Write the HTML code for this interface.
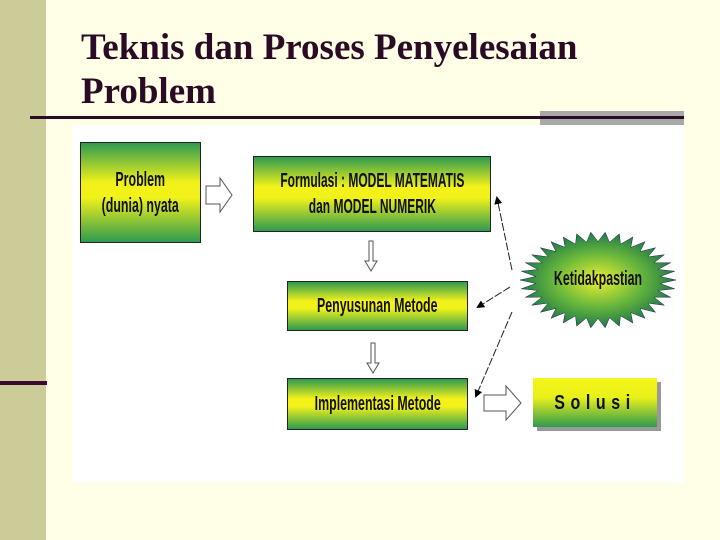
<!DOCTYPE html>
<html><head><style>
body{margin:0;width:720px;height:540px;background:#fffee6;position:relative;overflow:hidden;font-family:"Liberation Sans",sans-serif}
.side{position:absolute;left:0;top:0;width:46px;height:540px;background:#cccc99}
.title{position:absolute;left:81px;top:26px;font-family:"Liberation Serif",serif;font-weight:bold;font-size:37px;line-height:44px;color:#2a0a25;white-space:nowrap}
.b{position:absolute;border:1px solid #222;background:linear-gradient(#2f9a50,#f2f21a 40%,#f2f21a 55%,#2f9a50);display:flex;align-items:center;justify-content:center;text-align:center;color:#111;font-size:20px;line-height:26px;font-weight:bold}
.b span{display:inline-block;transform:scaleX(0.62);white-space:nowrap}
</style></head><body>
<div class="side"></div>
<div style="position:absolute;left:0;top:381px;width:47px;height:4px;background:#3a0a30"></div>
<div class="title">Teknis dan Proses Penyelesaian<br>Problem</div>
<div style="position:absolute;left:540px;top:111px;width:144px;height:14px;background:#a8a8a8"></div>
<div style="position:absolute;left:30px;top:116px;width:654px;height:3px;background:#2a0a25"></div>
<div style="position:absolute;left:72px;top:125px;width:612px;height:358px;background:#fff"></div>
<div class="b" style="left:80px;top:142px;width:119px;height:99px"><span>Problem<br>(dunia) nyata</span></div>
<div class="b" style="left:253px;top:156px;width:236px;height:74px"><span style="transform:scaleX(0.6)">Formulasi : MODEL MATEMATIS<br>dan MODEL NUMERIK</span></div>
<div class="b" style="left:287px;top:281px;width:179px;height:48px"><span>Penyusunan Metode</span></div>
<div class="b" style="left:287px;top:378px;width:179px;height:50px"><span>Implementasi Metode</span></div>
<div class="b" style="left:533px;top:378px;width:124px;height:49px;border:none;box-shadow:4px 4px 0 #999;background:linear-gradient(#f6f61a,#e8f01a 40%,#2f9a50)"><span style="letter-spacing:7px;transform:scaleX(0.8)">Solusi</span></div>
<svg width="720" height="540" style="position:absolute;left:0;top:0">
<defs><radialGradient id="g"><stop offset="0" stop-color="#eef030"/><stop offset="0.55" stop-color="#6ab83c"/><stop offset="1" stop-color="#1f7a45"/></radialGradient>
<marker id="a" markerWidth="8" markerHeight="8" refX="6" refY="4" orient="auto"><path d="M0,0L8,4L0,8z" fill="#000"/></marker></defs>
<polygon id="star" fill="url(#g)" stroke="#225" stroke-width="0.5" points=""/>
<text x="598" y="285" text-anchor="middle" font-size="20" font-weight="bold" fill="#111" transform="translate(598,0) scale(0.62,1) translate(-598,0)">Ketidakpastian</text>
<path d="M206,186h14v-8l12,17l-12,17v-8h-14z" fill="#fff" stroke="#555"/>
<path d="M484,395h22v-9l15,17l-15,17v-9h-22z" fill="#fff" stroke="#555"/>
<path d="M369,241v20h-4l6,10l6,-10h-4v-20z" fill="#fff" stroke="#555"/>
<path d="M371,343v20h-4l6,10l6,-10h-4v-20z" fill="#fff" stroke="#555"/>
<g stroke="#222" stroke-width="1" stroke-dasharray="8,2" fill="none">
<line x1="512" y1="270" x2="497" y2="198" marker-end="url(#a)"/>
<line x1="510" y1="287" x2="478" y2="307" marker-end="url(#a)"/>
<line x1="512" y1="312" x2="476" y2="396" marker-end="url(#a)"/>
</g>
</svg>
<script>
var p=[],n=34,cx=598,cy=280;
for(var i=0;i<2*n;i++){var a=Math.PI*i/n,r=i%2?0.8:1;p.push((cx+78*r*Math.cos(a)).toFixed(1)+","+(cy+48*r*Math.sin(a)).toFixed(1));}
document.getElementById("star").setAttribute("points",p.join(" "));
</script>
</body></html>
